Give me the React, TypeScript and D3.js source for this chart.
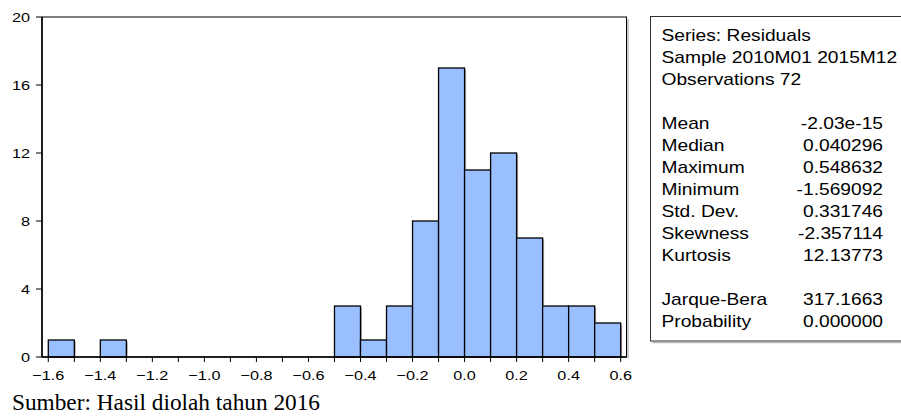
import React from 'react';
import * as d3 from 'd3';

// histogram of residuals (bin left edges and counts)
const binStarts = [-1.6, -1.5, -1.4, -1.3, -1.2, -1.1, -1.0, -0.9, -0.8, -0.7, -0.6, -0.5, -0.4, -0.3, -0.2, -0.1, 0.0, 0.1, 0.2, 0.3, 0.4, 0.5];
const counts = [1, 0, 1, 0, 0, 0, 0, 0, 0, 0, 0, 3, 1, 3, 8, 17, 11, 12, 7, 3, 3, 2];
const binWidth = 0.1;

const xMajorTicks = [-1.6, -1.4, -1.2, -1.0, -0.8, -0.6, -0.4, -0.2, 0.0, 0.2, 0.4, 0.6];
const xMinorTicks = [-1.5, -1.3, -1.1, -0.9, -0.7, -0.5, -0.3, -0.1, 0.1, 0.3, 0.5];
const yTicks = [0, 4, 8, 12, 16, 20];

const headerLines = ['Series: Residuals', 'Sample 2010M01 2015M12', 'Observations 72'];
const statNames = ['Mean', 'Median', 'Maximum', 'Minimum', 'Std. Dev.', 'Skewness', 'Kurtosis'];
const statValues = ['-2.03e-15', '0.040296', '0.548632', '-1.569092', '0.331746', '-2.357114', '12.13773'];
const testNames = ['Jarque-Bera', 'Probability'];
const testValues = ['317.1663', '0.000000'];

const FONT = 'Arial, "Liberation Sans", sans-serif';

const left = 42, right = 626.5, top = 17, bottom = 357;

function SText({ x, y, anchor = 'start', size, sx = 1.25, children }: any) {
  return (
    <text
      transform={`translate(${x},${y}) scale(${sx},1)`}
      textAnchor={anchor}
      fontFamily={FONT}
      fontSize={size}
      fill="#000"
    >
      {children}
    </text>
  );
}

export default function App() {
  const x = d3.scaleLinear().domain([-1.6242, 0.6224]).range([left, right]);
  const y = d3.scaleLinear().domain([0, 20]).range([bottom, top]);
  const fmt = d3.format('.1f');

  const boxX = 650.5, boxY = 16.5, boxB = 341;
  const lineH = 22;
  const textX = 661.5, valX = 883;
  const headY = 40.5;
  const statY = 129;
  const testY = 305;
  const fs = 16, fsx = 1.2;

  return (
    <svg width={901} height={420} style={{ position: 'absolute', left: 0, top: 0, background: '#fff' }}>
      <rect width={901} height={420} fill="#fff" />
      {/* frame shadow */}
      <line x1={right + 1.5} x2={right + 1.5} y1={top + 2} y2={bottom + 1.5} stroke="#bbb" strokeWidth={1.5} />
      <rect x={left} y={top} width={right - left} height={bottom - top} fill="none" stroke="#000" strokeWidth={1} />

      {/* bar shadows */}
      {binStarts.map((b, i) =>
        counts[i] > 0 ? (
          <rect key={'s' + i} x={x(b) + 1.5} y={y(counts[i]) + 1.5}
            width={x(b + binWidth) - x(b)} height={bottom - y(counts[i]) - 1.5} fill="#aaa" />
        ) : null
      )}
      {binStarts.map((b, i) =>
        counts[i] > 0 ? (
          <rect key={'b' + i} x={x(b)} y={y(counts[i])}
            width={x(b + binWidth) - x(b)} height={bottom - y(counts[i])}
            fill="#99BFFF" stroke="#000" strokeWidth={1.3} />
        ) : null
      )}

      {/* axes */}
      <line x1={left} x2={left} y1={top} y2={bottom} stroke="#000" strokeWidth={1.5} />
      <line x1={left} x2={right} y1={bottom} y2={bottom} stroke="#000" strokeWidth={1.5} />
      {yTicks.map((t) => (
        <g key={'y' + t}>
          <line x1={left - 6} x2={left} y1={y(t)} y2={y(t)} stroke="#000" strokeWidth={1} />
          <SText x={30} y={y(t) + 4.5} anchor="end" size={13}>{String(t)}</SText>
        </g>
      ))}
      {xMinorTicks.map((t) => (
        <line key={'m' + t} x1={x(t)} x2={x(t)} y1={bottom} y2={bottom + 5} stroke="#000" strokeWidth={1} />
      ))}
      {xMajorTicks.map((t) => (
        <g key={'x' + t}>
          <line x1={x(t)} x2={x(t)} y1={bottom} y2={bottom + 5} stroke="#000" strokeWidth={1} />
          <SText x={x(t)} y={379.5} anchor="middle" size={13}>{fmt(t)}</SText>
        </g>
      ))}

      {/* statistics box */}
      <line x1={boxX + 1.5} x2={905} y1={boxB + 1.5} y2={boxB + 1.5} stroke="#bbb" strokeWidth={1.5} />
      <rect x={boxX} y={boxY} width={260} height={boxB - boxY} fill="#fff" stroke="#333" strokeWidth={1} />
      {headerLines.map((s, i) => (
        <SText key={'h' + i} x={textX} y={headY + i * lineH} size={fs} sx={fsx}>{s}</SText>
      ))}
      {statNames.map((s, i) => (
        <g key={'st' + i}>
          <SText x={textX} y={statY + i * lineH} size={fs} sx={fsx}>{s}</SText>
          <SText x={valX} y={statY + i * lineH} anchor="end" size={fs} sx={fsx}>{statValues[i]}</SText>
        </g>
      ))}
      {testNames.map((s, i) => (
        <g key={'t' + i}>
          <SText x={textX} y={testY + i * lineH} size={fs} sx={fsx}>{s}</SText>
          <SText x={valX} y={testY + i * lineH} anchor="end" size={fs} sx={fsx}>{testValues[i]}</SText>
        </g>
      ))}

      <text x={12} y={409.5} fontFamily='"Times New Roman", "Liberation Serif", serif' fontSize={23.3} fill="#000">
        Sumber: Hasil diolah tahun 2016
      </text>
    </svg>
  );
}
